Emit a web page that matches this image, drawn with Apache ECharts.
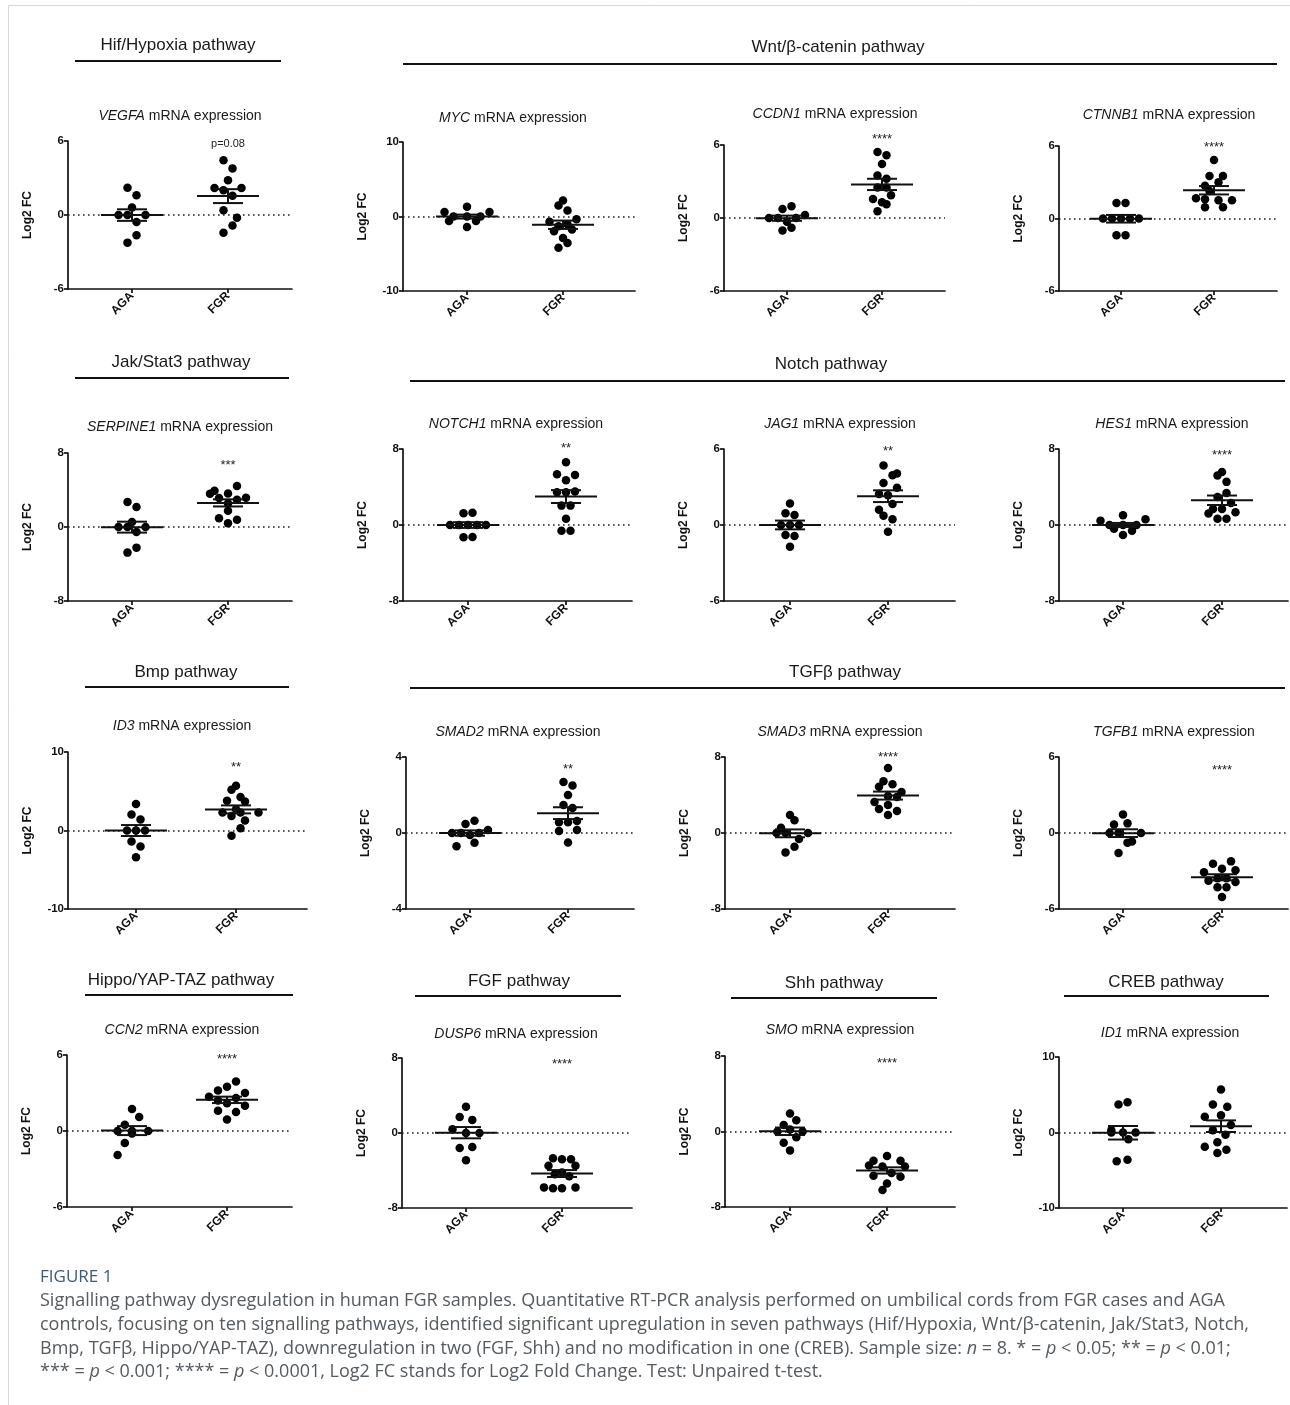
<!DOCTYPE html>
<html><head><meta charset="utf-8">
<script src="https://cdn.jsdelivr.net/npm/echarts@6/dist/echarts.min.js"></script>
<style>html,body{margin:0;padding:0;background:#fff}#c{width:1290px;height:1405px}</style>
</head><body><div id="c"></div>
<script>
// ---------------- DATA ----------------
const categories = ['AGA', 'FGR'];
const genes = ['VEGFA','MYC','CCDN1','CTNNB1','SERPINE1','NOTCH1','JAG1','HES1','ID3','SMAD2','SMAD3','TGFB1','CCN2','DUSP6','SMO','ID1'];
const yMax = [6,10,6,6, 8,8,6,8, 10,4,8,6, 6,8,8,10];
const sigLabels = ['p=0.08','','****','****', '***','**','**','****', '**','**','****','****', '****','****','****',''];
const pathwayNames = ['Hif/Hypoxia pathway','Wnt/β-catenin pathway','Jak/Stat3 pathway','Notch pathway','Bmp pathway','TGFβ pathway','Hippo/YAP-TAZ pathway','FGF pathway','Shh pathway','CREB pathway'];

const agaValues = [
  [2.2, 1.6, 0.6, 0, 0, 0, -0.57, -1.65, -2.24],
  [1.3, 0.6, 0.6, 0, 0, 0, -0.6, -0.6, -1.4],
  [0.96, 0.74, 0.25, 0, 0, 0, -0.3, -0.8, -1.02],
  [1.29, 1.29, 0, 0, 0, 0, 0, -1.38, -1.38],
  [2.7, 2.16, 0.54, 0, 0, 0, -0.54, -2.23, -2.77],
  [1.23, 1.3, 0, 0, 0, 0, 0, -1.3, -1.27],
  [1.69, 0.92, 0.79, 0, 0, 0, -0.79, -0.87, -1.71],
  [1.02, 0.46, 0.6, 0, 0, 0, -0.39, -0.6, -1.05],
  [3.38, 2.03, 1.4, 0, 0, 0, -1.4, -2.03, -3.42],
  [0.65, 0.47, 0.16, 0, 0, 0, -0.1, -0.51, -0.7],
  [1.9, 1.33, 0.56, 0, 0, 0, -0.63, -1.44, -2.04],
  [1.47, 0.68, 0.76, 0, 0, 0, -0.76, -0.68, -1.58],
  [1.74, 1.1, 0.5, 0, 0, 0, -0.2, -0.95, -1.9],
  [2.8, 1.7, 1.4, 0.4, 0, 0, -1.5, -1.6, -2.9],
  [1.9, 1.2, 0.7, 0, 0, -0.6, -1.2, -2.0, 0.2],
  [3.7, 4.0, 0.3, 0, 0, 0, -0.9, -3.6, -3.8]
];
const agaSlots = [
  [-0.5, 0.5, 0, -1.5, -0.5, 1.5, 0.5, 0.5, -0.5],
  [0, -2.5, 2.5, -1.5, 0, 1.5, -2, 1, 0],
  [0.5, -0.5, 2, -2, -1, 1, 0, 0.5, -0.5],
  [-0.5, 0.5, -2, -1, 0, 1, 2, -0.5, 0.5],
  [-0.5, 0.5, 0, -1.5, -0.5, 1.5, 0.5, 0.5, -0.5],
  [-0.5, 0.5, -2, -1, 0, 1, 2, -0.5, 0.5],
  [0, -0.5, 0.5, -1, 0, 1, -0.5, 0.5, 0],
  [0, -2.5, 2.5, -1.5, 0, 1.5, -1, 1, 0],
  [0, -0.5, 0.5, -1, 0, 1, -0.5, 0.5, 0],
  [0.5, -0.5, 2, -2, -1, 1, 0, 0.5, -1.5],
  [0, 0.5, -1, -1.5, -0.5, 2, 1, 0.5, -0.5],
  [0, -1, 0.5, -1.5, -0.5, 2, 0.5, 1, -0.5],
  [0, 0.8, -0.8, -1.6, 0, 1.8, 0, -0.8, -1.6],
  [0, -0.7, 0.7, -1.5, 0, 1.5, 0.7, -0.7, 0],
  [0, 0.7, -0.7, -1.4, 1.4, 0.7, -0.7, 0, 0],
  [-0.5, 0.5, -1.3, 0, 1.4, -1.3, 0.6, 0.5, -0.7]
];
const fgrValues = [
  [4.43, 3.78, 2.81, 2.19, 2.0, 2.19, 1.57, 0.38, -0.22, -0.86, -1.43],
  [2.16, 1.48, 0.81, -0.36, -0.72, -1.03, -1.3, -1.75, -1.98, -2.88, -3.55, -4.18],
  [5.42, 5.15, 4.43, 3.5, 3.22, 2.5, 2.5, 1.87, 1.57, 1.29, 1.13, 0.55],
  [4.84, 3.52, 3.52, 3.0, 2.72, 2.28, 1.68, 1.6, 1.51, 1.51, 0.94, 0.94],
  [4.42, 3.92, 3.6, 3.63, 3.13, 3.17, 2.95, 2.55, 1.76, 0.94, 0.79, 0.4],
  [6.61, 5.34, 5.27, 4.71, 3.45, 3.45, 3.52, 2.04, 2.04, 0.67, -0.6, -0.6],
  [4.7, 4.06, 3.93, 3.32, 2.95, 2.45, 2.35, 1.66, 1.21, 0.74, 0.45, -0.53],
  [5.59, 5.2, 4.54, 3.38, 2.95, 2.32, 1.69, 1.69, 1.34, 1.2, 0.67, 0.67],
  [5.7, 5.2, 4.27, 3.8, 3.68, 2.7, 2.28, 2.28, 2.28, 1.86, 1.27, 0.3, -0.68],
  [2.68, 2.5, 2.0, 1.47, 1.32, 0.56, 0.56, 0.63, 0.1, 0.16, -0.5],
  [6.84, 5.44, 4.88, 5.12, 4.32, 3.9, 3.79, 3.26, 2.95, 2.53, 2.32, 1.9],
  [-2.42, -2.24, -2.82, -3.1, -2.95, -3.76, -3.58, -3.58, -3.87, -4.29, -4.29, -5.05],
  [3.9, 3.5, 3.2, 3.0, 2.7, 2.6, 2.4, 2.2, 2.0, 1.6, 1.5, 0.9],
  [-2.7, -2.8, -2.8, -3.5, -3.5, -4.2, -4.4, -4.6, -5.8, -5.9, -5.9, -5.8],
  [-2.6, -3.1, -3.1, -3.6, -3.7, -3.7, -4.4, -4.7, -4.8, -5.5, -6.2],
  [5.7, 3.7, 3.4, 2.1, 2.3, 1.0, 0.3, -0.3, -1.3, -1.9, -2.3, -2.7]
];
const fgrSlots = [
  [-0.5, 0.5, 0, -1.5, -0.5, 1.5, 0.5, -0.5, 1, 0.5, -0.5],
  [0, -0.5, 0.5, 1.5, -1.5, 0.5, -0.5, 1, -1, 0, 0.5, -0.5],
  [-0.5, 0.5, 0, -0.5, 0.5, -0.5, 0.5, 1, -1, 0, 0.5, -0.5],
  [0, -0.5, 1, 0.5, -1, -0.5, -2, -1, 0.5, 2, -1, 1],
  [1, -1.5, -2, 0, -1, 2, 1, 0, 0, -1, 1, 0],
  [0, -1, 1, 0, -1, 0, 1, -0.5, 0.5, 0, -0.5, 0.5],
  [-0.5, 1, 0.5, -0.5, 1, -1, 0, 0.5, -1, -0.5, 0.5, 0],
  [0, -0.5, 0.5, 0.5, -0.5, 1, -1, 0, 1.5, -1.5, -0.5, 0.5],
  [0, -0.5, 0.5, -1, 1, 0, -1.5, 0.5, 2.5, -0.5, 1, 0.5, -0.5],
  [-0.5, 0.5, 0, -0.5, 0.5, -1, 0, 1, -1, 1, 0],
  [0, -0.5, -1, 0.5, 1.5, 0, 1, -1.5, 0, -1, 1, 0],
  [-1, 1, 0, -2, 1.5, -1.5, -0.5, 0.5, 1.5, -0.5, 0.5, 0],
  [1, 0, -1, 2, -2, 1, -1, 0, 2, -1, 1, 0],
  [-1, 0, 1, -1.5, 1.5, 0, -0.8, 0.8, -2, -1, 0, 1.5],
  [0, -1.5, 1.5, -2, -0.5, 2, 0.5, -1.5, 1.5, 0, -0.5],
  [0, -0.9, 0.7, -1.8, 0, 1.1, -0.9, 0.5, -0.4, -1.8, 0.6, -0.4]
];

// ---------------- LAYOUT (pixels) ----------------
// [left, top, width, height, agaPx, fgrPx, titleX, titleY, sigY]
const layout = [
  [68,141,224,148,64,160,180,116,144],
  [403,142,232,149,64,160,513,118,0],
  [724,145,221,146,63,158,835,114,139],
  [1059,146,218,145,62,155,1169,115,147],
  [68,453,224,148,64,160,180,427,465],
  [403,449,229,152,65,163,516,424,448],
  [724,449,231,152,66,164,840,424,451],
  [1059,449,229,152,64,163,1172,424,455],
  [68,752,239,157,68,168,182,726,767],
  [406,757,228,152,64,162,518,732,769],
  [725,757,230,152,65,163,840,732,757],
  [1059,757,229,152,64,163,1174,732,770],
  [67,1055,225,152,65,160,182,1030,1059],
  [402,1058,230,150,64,160,516,1034,1064],
  [725,1056,230,151,65,162,840,1030,1063],
  [1059,1057,228,151,64,162,1170,1033,0]
];
// [centerX, textY, lineY, lineX1, lineX2]
const headerLayout = [
  [178,45,61,75,281],[838,47,64,403,1277],
  [181,362,378,75,289],[831,364,381,410,1285],
  [186,672,687,85,289],[845,672,688,410,1285],
  [181,980,995,85,293],[519,981,996,415,621],
  [834,983,998,731,937],[1166,982,996,1064,1269]
];

const captionLines = [
  'Signalling pathway dysregulation in human FGR samples. Quantitative RT-PCR analysis performed on umbilical cords from FGR cases and AGA',
  'controls, focusing on ten signalling pathways, identified significant upregulation in seven pathways (Hif/Hypoxia, Wnt/β-catenin, Jak/Stat3, Notch,',
  'Bmp, TGFβ, Hippo/YAP-TAZ), downregulation in two (FGF, Shh) and no modification in one (CREB). Sample size: {i|n} = 8. * = {i|p} < 0.05; ** = {i|p} < 0.01;',
  '*** = {i|p} < 0.001; **** = {i|p} < 0.0001, Log2 FC stands for Log2 Fold Change. Test: Unpaired t-test.'
];

// ---------------- BUILD ----------------
const FONT = 'Liberation Sans';
const CAPFONT = 'Open Sans';
function mean(a){return a.reduce((s,v)=>s+v,0)/a.length;}
function sem(a){const m=mean(a);const v=a.reduce((s,x)=>s+(x-m)*(x-m),0)/(a.length-1);return Math.sqrt(v/a.length);}

const grids=[], xAxes=[], yAxes=[], series=[], graphics=[];
layout.forEach((L,i)=>{
  const [l,t,w,h,a,f,tx,ty,sy]=L;
  const unit=f-a;
  const slotU=9/unit;
  grids.push({left:l,top:t,width:w,height:h,containLabel:false});
  xAxes.push({gridIndex:i,type:'value',min:-a/unit,max:(w-a)/unit,
    splitLine:{show:false},
    axisLine:{onZero:false,lineStyle:{color:'#111',width:1.7}},
    axisTick:{customValues:[0,1],length:4,lineStyle:{color:'#111',width:1.7}},
    axisLabel:{customValues:[0,1],formatter:v=>categories[Math.round(v)],rotate:45,margin:5,
      fontFamily:FONT,fontWeight:'bold',fontSize:12,color:'#111'}});
  yAxes.push({gridIndex:i,type:'value',min:-yMax[i],max:yMax[i],interval:yMax[i],
    splitLine:{show:false},
    axisLine:{onZero:false,lineStyle:{color:'#111',width:1.7}},
    axisTick:{length:4,lineStyle:{color:'#111',width:1.7}},
    axisLabel:{margin:4,fontFamily:FONT,fontWeight:'bold',fontSize:11.5,color:'#111'},
    name:'Log2 FC',nameLocation:'middle',nameGap:34,
    nameTextStyle:{fontFamily:FONT,fontWeight:'bold',fontSize:12,color:'#111'}});
  const pts=[];
  agaValues[i].forEach((v,k)=>pts.push([0+agaSlots[i][k]*slotU,v]));
  fgrValues[i].forEach((v,k)=>pts.push([1+fgrSlots[i][k]*slotU,v]));
  series.push({type:'scatter',xAxisIndex:i,yAxisIndex:i,data:pts,symbolSize:8.5,
    itemStyle:{color:'#000',opacity:1},silent:true,z:3,
    markLine:{silent:true,symbol:['none','none'],label:{show:false},
      lineStyle:{color:'#222',type:[1.6,3.4],width:1.6},data:[{yAxis:0}],z:1}});
  const stats=[[0,mean(agaValues[i]),sem(agaValues[i])],[1,mean(fgrValues[i]),sem(fgrValues[i])]];
  series.push({type:'custom',xAxisIndex:i,yAxisIndex:i,data:stats,silent:true,z:5,
    renderItem:(p,api)=>{
      const x=api.value(0),m=api.value(1),s=api.value(2);
      const c=api.coord([x,m]),hi=api.coord([x,m+s]),lo=api.coord([x,m-s]);
      const st={stroke:'#111',lineWidth:2};
      return {type:'group',children:[
        {type:'line',shape:{x1:c[0]-31,y1:c[1],x2:c[0]+31,y2:c[1]},style:st},
        {type:'line',shape:{x1:c[0]-15,y1:hi[1],x2:c[0]+15,y2:hi[1]},style:st},
        {type:'line',shape:{x1:c[0]-15,y1:lo[1],x2:c[0]+15,y2:lo[1]},style:st},
        {type:'line',shape:{x1:c[0],y1:hi[1],x2:c[0],y2:lo[1]},style:st}
      ]};
    }});
  graphics.push({type:'text',x:tx,y:ty,style:{text:'{i|'+genes[i]+'} mRNA expression',
    rich:{i:{fontStyle:'italic',fontFamily:FONT,fontSize:14,fill:'#1a1a1a'}},
    fontFamily:FONT,fontSize:14,fill:'#1a1a1a',align:'center',verticalAlign:'middle'}});
  if(sigLabels[i]){
    const isP=sigLabels[i].startsWith('p');
    graphics.push({type:'text',x:l+f,y:sy,style:{text:sigLabels[i],fontFamily:FONT,
      fontSize:isP?11:13,fill:'#222',align:'center',verticalAlign:'middle'}});
  }
});
headerLayout.forEach((H,j)=>{
  const [cx,ty,ly,x1,x2]=H;
  graphics.push({type:'text',x:cx,y:ty,style:{text:pathwayNames[j],fontFamily:FONT,fontSize:17,
    fill:'#1a1a1a',align:'center',verticalAlign:'middle'}});
  graphics.push({type:'line',shape:{x1:x1,y1:ly,x2:x2,y2:ly},style:{stroke:'#111',lineWidth:2}});
});
// frame (left and top edges)
graphics.push({type:'line',shape:{x1:8.5,y1:5.5,x2:1290,y2:5.5},style:{stroke:'#d6d6d6',lineWidth:1}});
graphics.push({type:'line',shape:{x1:8.5,y1:5.5,x2:8.5,y2:1405},style:{stroke:'#d6d6d6',lineWidth:1}});
// caption
graphics.push({type:'text',x:40,y:1277,style:{text:'FIGURE 1',fontFamily:CAPFONT,
  fontSize:17,fill:'#3f5a73',verticalAlign:'middle'}});
captionLines.forEach((ln,k)=>{
  graphics.push({type:'text',x:40,y:1301+k*23.7,style:{text:ln,fontFamily:CAPFONT,
    fontSize:18,fill:'#555b60',verticalAlign:'middle',
    rich:{i:{fontStyle:'italic',fontFamily:CAPFONT,fontSize:18,fill:'#555b60'}}}});
});

const chart=echarts.init(document.getElementById('c'),null,{renderer:'canvas'});
chart.setOption({animation:false,backgroundColor:'#fff',grid:grids,xAxis:xAxes,yAxis:yAxes,series:series,graphic:graphics});
</script></body></html>
